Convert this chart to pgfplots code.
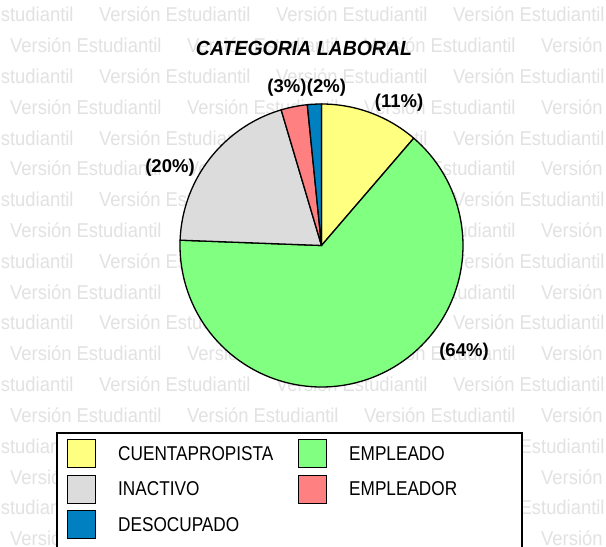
\documentclass[border=0pt]{standalone}
\usepackage{fontspec}
\setmainfont{Liberation Sans}
\newfontfamily\wmfont[FakeStretch=0.92]{Liberation Sans}
\newfontfamily\legfont[FakeStretch=0.86]{Liberation Sans}
\newfontfamily\titfont[FakeStretch=0.95]{Liberation Sans}
\usepackage{pgfplots}
\pgfplotsset{compat=1.18}
\definecolor{cYel}{HTML}{FFFF80}
\definecolor{cGrn}{HTML}{80FF80}
\definecolor{cGry}{HTML}{DCDCDC}
\definecolor{cSal}{HTML}{FF8080}
\definecolor{cBlu}{HTML}{0080C0}
\definecolor{wm}{HTML}{E2E2E2}
\begin{document}
\begin{tikzpicture}
% data: shares in percent
\def\pA{11.3}% CUENTAPROPISTA
\def\pB{64.3}% EMPLEADO
\def\pC{19.8}% INACTIVO
\def\pD{3.0}%  EMPLEADOR
\def\pE{1.6}%  DESOCUPADO
\pgfmathsetmacro\aA{90}
\pgfmathsetmacro\aB{\aA-3.6*\pA}
\pgfmathsetmacro\aC{\aB-3.6*\pB}
\pgfmathsetmacro\aD{\aC-3.6*\pC}
\pgfmathsetmacro\aE{\aD-3.6*\pD}
\pgfmathsetmacro\aF{\aE-3.6*\pE}
\clip (0,0) rectangle (606pt,547pt);
\fill[white] (0,0) rectangle (606pt,547pt);
\begin{scope}[x=1pt,y=1pt]
\foreach \r in {0,...,17}{
  \pgfmathsetmacro\yy{547-22-30.8*\r}
  \pgfmathsetmacro\xo{mod(\r,2)==0 ? -78 : 10}
  \foreach \k in {0,...,3}{
    \pgfmathsetmacro\xx{\xo+177*\k}
    \node[anchor=base west, inner sep=0pt, text=wm, font=\wmfont\fontsize{20}{20}\selectfont] at (\xx,\yy) {Versión Estudiantil};
  }
}
\end{scope}
\begin{axis}[at={(0,0)}, anchor=origin, scale only axis, width=606pt, height=547pt,
  xmin=0, xmax=606, ymin=0, ymax=547, hide axis, clip=false]
\addplot[fill=cYel, draw=black, line width=1.3pt, line join=round, domain=\aB:\aA, samples=60, variable=\t]
  ({321.5+141.5*cos(\t)},{301.5+141.5*sin(\t)}) -- (axis cs:321.5,301.5) -- cycle;
\addplot[fill=cGrn, draw=black, line width=1.3pt, line join=round, domain=\aC:\aB, samples=150, variable=\t]
  ({321.5+141.5*cos(\t)},{301.5+141.5*sin(\t)}) -- (axis cs:321.5,301.5) -- cycle;
\addplot[fill=cGry, draw=black, line width=1.3pt, line join=round, domain=\aD:\aC, samples=60, variable=\t]
  ({321.5+141.5*cos(\t)},{301.5+141.5*sin(\t)}) -- (axis cs:321.5,301.5) -- cycle;
\addplot[fill=cSal, draw=black, line width=1.3pt, line join=round, domain=\aE:\aD, samples=20, variable=\t]
  ({321.5+141.5*cos(\t)},{301.5+141.5*sin(\t)}) -- (axis cs:321.5,301.5) -- cycle;
\addplot[fill=cBlu, draw=black, line width=1.3pt, line join=round, domain=\aF:\aE, samples=20, variable=\t]
  ({321.5+141.5*cos(\t)},{301.5+141.5*sin(\t)}) -- (axis cs:321.5,301.5) -- cycle;
% title
\node[font=\titfont\bfseries\itshape\fontsize{20.5}{20.5}\selectfont] at (axis cs:304,499) {CATEGORIA LABORAL};
% value labels
\tikzset{lab/.style={font=\bfseries\fontsize{18.5}{18.5}\selectfont, inner sep=0pt}}
\node[lab] at (axis cs:399,444) {(11\%)};
\node[lab] at (axis cs:464,195) {(64\%)};
\node[lab] at (axis cs:170,379) {(20\%)};
\node[lab] at (axis cs:287,459) {(3\%)};
\node[lab] at (axis cs:326.5,459) {(2\%)};
% legend
\draw[line width=1.6pt, fill=white] (axis cs:57,-10) rectangle (axis cs:522,114);
\tikzset{lsq/.style={draw=black, line width=1pt}, ltx/.style={anchor=west, inner sep=0pt, font=\legfont\fontsize{20}{20}\selectfont}}
\draw[lsq, fill=cYel] (axis cs:67,79.5) rectangle (axis cs:95,107.5);
\node[ltx] at (axis cs:118,93.5) {CUENTAPROPISTA};
\draw[lsq, fill=cGrn] (axis cs:298,79.5) rectangle (axis cs:326,107.5);
\node[ltx] at (axis cs:349,93.5) {EMPLEADO};
\draw[lsq, fill=cGry] (axis cs:67,44) rectangle (axis cs:95,72);
\node[ltx] at (axis cs:118,58) {INACTIVO};
\draw[lsq, fill=cSal] (axis cs:298,44) rectangle (axis cs:326,72);
\node[ltx] at (axis cs:349,58) {EMPLEADOR};
\draw[lsq, fill=cBlu] (axis cs:67,8.5) rectangle (axis cs:95,36.5);
\node[ltx] at (axis cs:118,22.5) {DESOCUPADO};
\end{axis}
\end{tikzpicture}
\end{document}
